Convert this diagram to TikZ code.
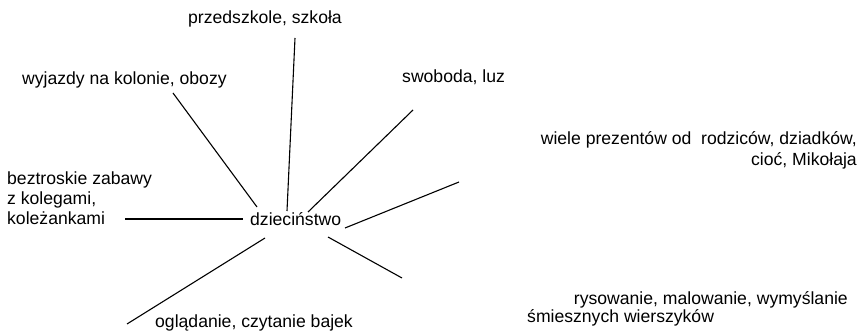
\documentclass[tikz,border=0pt]{standalone}
\usepackage{fontspec}
\setmainfont{Liberation Sans}
\begin{document}
\begin{tikzpicture}[x=1pt,y=-1pt,
  lbl/.style={inner sep=0pt, font=\fontsize{17.6}{20}\selectfont},
  spoke/.style={line width=1.1pt, black}]
\useasboundingbox (0,0) rectangle (863,331);
% labels
\node[lbl, anchor=base west] (center) at (250,226) {dzieciństwo};
\node[lbl, anchor=base west] (przed) at (188,24) {przedszkole, szkoła};
\node[lbl, anchor=base west] (wyj) at (22,85) {wyjazdy na kolonie, obozy};
\node[lbl, anchor=base west] (swob) at (402,83) {swoboda, luz};
\node[lbl, anchor=base east] (wiele1) at (857,145) {wiele prezentów od\ \ rodziców, dziadków,};
\node[lbl, anchor=base east] (wiele2) at (857,166) {cioć, Mikołaja};
\node[lbl, anchor=base west] (bez1) at (7,185) {beztroskie zabawy};
\node[lbl, anchor=base west] (bez2) at (7,205) {z kolegami,};
\node[lbl, anchor=base west] (bez3) at (7,225) {koleżankami};
\node[lbl, anchor=base west] (ogl) at (155,328) {oglądanie, czytanie bajek};
\node[lbl, anchor=base east] (rys1) at (848,305) {rysowanie, malowanie, wymyślanie};
\node[lbl, anchor=base west] (rys2) at (527,323) {śmiesznych wierszyków};
% spoke ends
\coordinate (p1) at (295,38);  \coordinate (p2) at (287,211);
\coordinate (w1) at (173,93);  \coordinate (w2) at (257,207);
\coordinate (s1) at (413,110); \coordinate (s2) at (308,212);
\coordinate (b1) at (125,219); \coordinate (b2) at (243,219);
\coordinate (r1) at (345,228); \coordinate (r2) at (459,182);
\coordinate (d1) at (328,237); \coordinate (d2) at (402,278);
\coordinate (o1) at (265,238); \coordinate (o2) at (127,324);
% spokes
\draw[spoke] (p1) -- (p2);
\draw[spoke] (w1) -- (w2);
\draw[spoke] (s1) -- (s2);
\draw[spoke] (b1) -- (b2);
\draw[spoke] (r1) -- (r2);
\draw[spoke] (d1) -- (d2);
\draw[spoke] (o1) -- (o2);
\end{tikzpicture}
\end{document}
